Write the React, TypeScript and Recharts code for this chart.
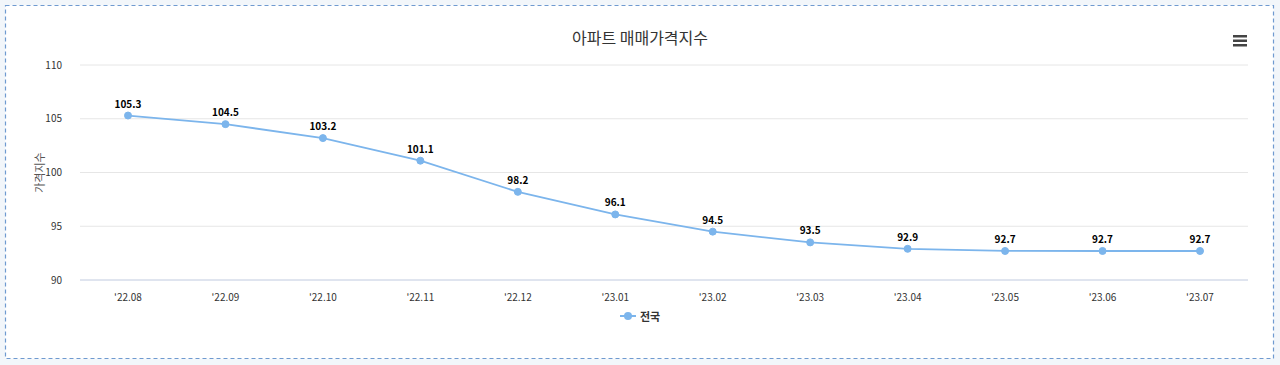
import { LineChart, Line, XAxis, YAxis, CartesianGrid, LabelList } from 'recharts'

const months = ["'22.08", "'22.09", "'22.10", "'22.11", "'22.12", "'23.01", "'23.02", "'23.03", "'23.04", "'23.05", "'23.06", "'23.07"]
const nationwide = [105.3, 104.5, 103.2, 101.1, 98.2, 96.1, 94.5, 93.5, 92.9, 92.7, 92.7, 92.7]
const yTicks = [90, 95, 100, 105, 110]

const data = months.map((m, i) => ({ month: m, value: nationwide[i] }))

const font = '"Malgun Gothic", "Noto Sans CJK KR", sans-serif'
const lineColor = '#7cb5ec'

export default function App() {
  return (
    <div style={{ position: 'absolute', left: 0, top: 0, width: 1280, height: 365, background: '#f2f6fa', overflow: 'hidden' }}>
      <svg style={{ position: 'absolute', left: 0, top: 0 }} width={1280} height={365}>
        <rect x={5.5} y={5.5} width={1268} height={353} fill="#fff" stroke="#6f9ad0" strokeWidth={1.2} strokeDasharray="4 3" />
      </svg>
      <div
        style={{
          position: 'absolute',
          left: 0,
          top: 25,
          width: 1280,
          textAlign: 'center',
          fontFamily: font,
          fontSize: 16,
          color: '#333',
        }}
      >
        아파트 매매가격지수
      </div>
      <svg style={{ position: 'absolute', left: 1233, top: 35 }} width={14} height={12}>
        <rect x={0} y={0} width={14} height={2.5} fill="#444" />
        <rect x={0} y={4.5} width={14} height={2.5} fill="#444" />
        <rect x={0} y={9} width={14} height={2.5} fill="#444" />
      </svg>
      <div style={{ position: 'absolute', left: 0, top: 0 }}>
        <LineChart width={1280} height={365} data={data} margin={{ top: 65, right: 32, bottom: 55, left: 40 }}>
          <CartesianGrid vertical={false} stroke="#e6e6e6" />
          <XAxis
            dataKey="month"
            height={30}
            axisLine={{ stroke: '#ccd6eb' }}
            tickLine={false}
            padding={{ left: 48, right: 48 }}
            tick={{ fontSize: 10, fill: '#333', fontFamily: font }}
            tickMargin={8}
          />
          <YAxis
            width={40}
            domain={[90, 110]}
            ticks={yTicks}
            axisLine={false}
            tickLine={false}
            tickMargin={12}
            tick={{ fontSize: 10, fill: '#333', fontFamily: font }}
            label={{ value: '가격지수', angle: -90, position: 'insideLeft', offset: 0, style: { fontSize: 11, fill: '#555', fontFamily: font, textAnchor: 'middle' } }}
          />
          <Line
            type="linear"
            dataKey="value"
            name="전국"
            stroke={lineColor}
            strokeWidth={1.8}
            dot={{ r: 3.5, fill: lineColor, stroke: lineColor, strokeWidth: 1 }}
            activeDot={false}
            isAnimationActive={false}
          >
            <LabelList dataKey="value" position="top" offset={8} style={{ fontSize: 10, fontWeight: 'bold', fill: '#000', fontFamily: font }} />
          </Line>
        </LineChart>
      </div>
      <div
        style={{
          position: 'absolute',
          left: 0,
          top: 308,
          width: 1280,
          display: 'flex',
          justifyContent: 'center',
          alignItems: 'center',
          fontFamily: font,
        }}
      >
        <svg width={16} height={10} style={{ marginRight: 4 }}>
          <line x1={0} y1={5} x2={16} y2={5} stroke={lineColor} strokeWidth={2} />
          <circle cx={8} cy={5} r={4} fill={lineColor} />
        </svg>
        <span style={{ fontSize: 11, fontWeight: 'bold', color: '#333' }}>전국</span>
      </div>
    </div>
  )
}
